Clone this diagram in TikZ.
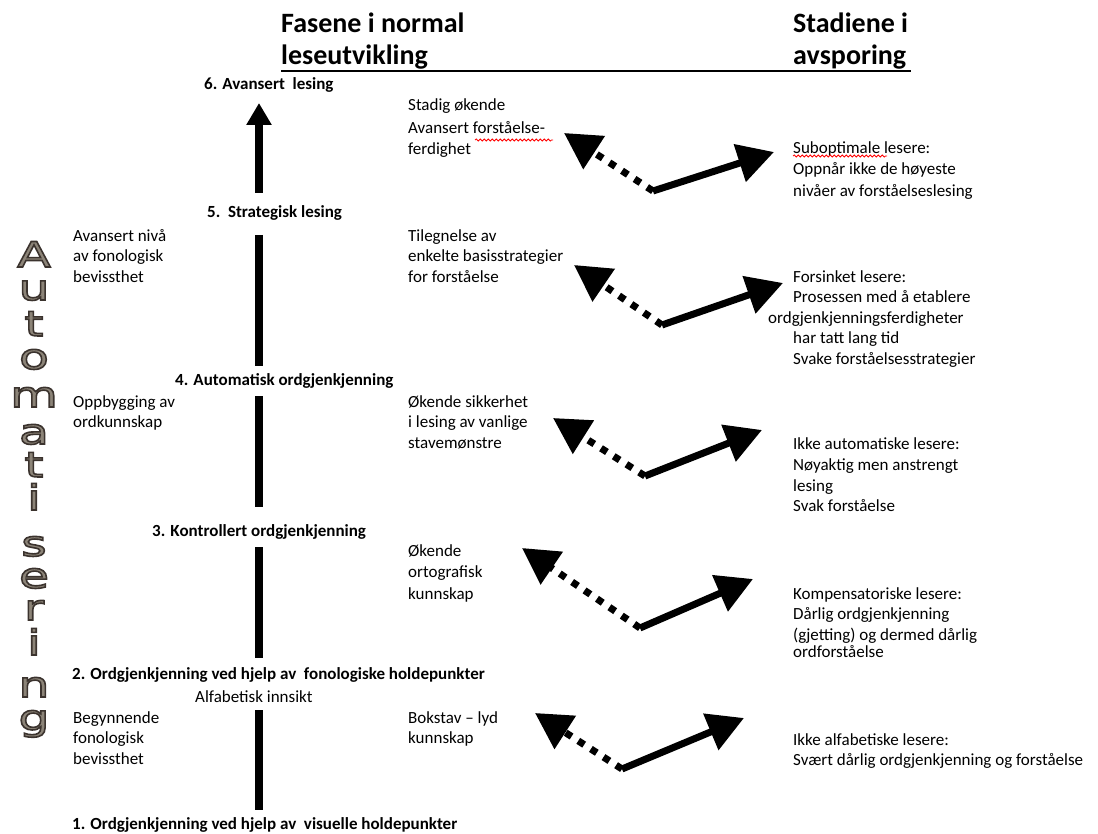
\documentclass[tikz,border=0pt]{standalone}
\usepackage{fontspec}
\setmainfont{Carlito}
\newfontfamily\autofont[FakeStretch=1.4]{DejaVu Sans}
\usetikzlibrary{arrows.meta,decorations.pathmorphing}
\definecolor{autofillc}{HTML}{8C8478}
\newcommand\autolet[3]{%
  \node[autobase,text=autofillc] (#1) at (34,#2) {\special{pdf:literal direct 2 Tr 1.6 w 0.23 0.20 0.18 RG}#3\special{pdf:literal direct 0 Tr}};
}
\begin{document}
\begin{tikzpicture}[x=1pt,y=-1pt,
  txt/.style={font=\fontsize{17}{20.5}\selectfont, align=left, inner sep=0, anchor=north west},
  stage/.style={font=\fontsize{17}{20.5}\selectfont\bfseries, inner sep=0, anchor=base west},
  plain/.style={font=\fontsize{17}{20.5}\selectfont, inner sep=0, anchor=base west},
  head/.style={font=\fontsize{28}{32}\selectfont\bfseries, align=left, inner sep=0, anchor=north west},
  autobase/.style={font=\autofont\fontsize{35}{35}\selectfont, inner sep=0, anchor=base},
  vline/.style={line width=7.5pt},
  solidarr/.style={line width=7pt, -{Triangle[length=36pt,width=38pt]}},
  dotarr/.style={line width=7pt, dash pattern=on 7pt off 8pt, -{Triangle[length=36pt,width=38pt]}},
  squiggle/.style={red, line width=0.8pt, decorate, decoration={snake, amplitude=1pt, segment length=4pt}}
]
\useasboundingbox (0,0) rectangle (1098,834);

% headers
\node[head] (h1) at (281,9.6) {\strut Fasene i normal\\leseutvikling};
\node[head] (h2) at (793,9.6) {\strut Stadiene i\\avsporing};
\coordinate (ul1) at (281,71);
\coordinate (ul2) at (911,71);
\draw[line width=2.5pt] (ul1) -- (ul2);

% stage labels
\node[stage] (s6) at (204,90) {6. Avansert\ \ lesing};
\node[stage] (s5) at (207,218) {5.\ \ Strategisk lesing};
\node[stage] (s4) at (175,385) {4. Automatisk ordgjenkjenning};
\node[stage] (s3) at (152,536) {3. Kontrollert ordgjenkjenning};
\node[stage] (s2) at (72,679) {2. Ordgjenkjenning ved hjelp av\ \ fonologiske holdepunkter};
\node[plain] (alf) at (195,702) {Alfabetisk innsikt};
\node[stage] (s1) at (72,829) {1. Ordgjenkjenning ved hjelp av\ \ visuelle holdepunkter};

% vertical arrow and lines
\coordinate (a6b) at (259,193); \coordinate (a6t) at (259,103);
\coordinate (a5t) at (259,235); \coordinate (a5b) at (259,366);
\coordinate (a4t) at (259,396); \coordinate (a4b) at (259,507);
\coordinate (a3t) at (259,547); \coordinate (a3b) at (259,658);
\coordinate (a2t) at (259,710); \coordinate (a2b) at (259,810);
\draw[vline, -{Triangle[length=22pt,width=24pt]}] (a6b) -- (a6t);
\draw[vline] (a5t) -- (a5b);
\draw[vline] (a4t) -- (a4b);
\draw[vline] (a3t) -- (a3b);
\draw[vline] (a2t) -- (a2b);

% left texts
\node[txt] (L5) at (73,226.6) {\strut Avansert nivå\\av fonologisk\\bevissthet};
\node[txt] (L4) at (73,392.6) {\strut Oppbygging av\\ordkunnskap};
\node[txt] (L2) at (73,708.6) {\strut Begynnende\\fonologisk\\bevissthet};

% middle texts
\node[txt] (M6) at (408,95.6) {\strut Stadig økende\\[3pt]Avansert forståelse-\\ferdighet};
\node[txt] (M5) at (408,226.6) {\strut Tilegnelse av\\enkelte basisstrategier\\for forståelse};
\node[txt] (M4) at (408,392.6) {\strut Økende sikkerhet\\i lesing av vanlige\\stavemønstre};
\node[txt] (M3) at (408,541.6) {\strut Økende\\[1pt]ortografisk\\[1pt]kunnskap};
\node[txt] (M2) at (408,708.6) {\strut Bokstav – lyd\\kunnskap};

% right texts
\node[txt] (R6) at (793,138.6) {\strut Suboptimale lesere:\\[1pt]Oppnår ikke de høyeste\\[1pt]nivåer av forståelseslesing};
\node[txt] (R5) at (768,267.6) {\strut\hspace*{25pt}Forsinket lesere:\\\hspace*{25pt}Prosessen med å etablere\\ordgjenkjenningsferdigheter\\\hspace*{25pt}har tatt lang tid\\\hspace*{25pt}Svake forståelsesstrategier};
\node[txt] (R4) at (793,434.6) {\strut Ikke automatiske lesere:\\[1pt]Nøyaktig men anstrengt\\lesing\\Svak forståelse};
\node[txt] (R3) at (793,584.6) {\strut Kompensatoriske lesere:\\Dårlig ordgjenkjenning\\(gjetting) og dermed dårlig\\[-3pt]ordforståelse};
\node[txt] (R2) at (793,730.6) {\strut Ikke alfabetiske lesere:\\Svært dårlig ordgjenkjenning og forståelse};

% spell-check squiggles
\coordinate (q1a) at (475,140); \coordinate (q1b) at (553,140);
\coordinate (q2a) at (793,156); \coordinate (q2b) at (887,156);
\draw[squiggle] (q1a) -- (q1b);
\draw[squiggle] (q2a) -- (q2b);

% stage arrows
\coordinate (v1) at (653,191); \coordinate (l1) at (564,133); \coordinate (r1) at (774,152);
\coordinate (v2) at (662,325); \coordinate (l2) at (574,265); \coordinate (r2) at (783,283);
\coordinate (v3) at (645,476); \coordinate (l3) at (553,418); \coordinate (r3) at (762,430);
\coordinate (v4) at (640,628); \coordinate (l4) at (522,548); \coordinate (r4) at (753,579);
\coordinate (v5) at (622,769); \coordinate (l5) at (535,713); \coordinate (r5) at (744,718);
\foreach \i in {1,...,5}{
  \draw[dotarr] (v\i) -- (l\i);
  \draw[solidarr] (v\i) -- (r\i);
}

% Automatisering (drawn last, own scope)
\begin{scope}
\autolet{A1}{267}{A}
\autolet{A2}{300}{u}
\autolet{A3}{336}{t}
\autolet{A4}{369}{o}
\autolet{A5}{407}{m}
\autolet{A6}{444}{a}
\autolet{A7}{477}{t}
\autolet{A8}{510}{i}
\autolet{A9}{556}{s}
\autolet{A10}{588}{e}
\autolet{A11}{620}{r}
\autolet{A12}{655}{i}
\autolet{A13}{697}{n}
\autolet{A14}{730}{g}
\end{scope}
\end{tikzpicture}
\end{document}
